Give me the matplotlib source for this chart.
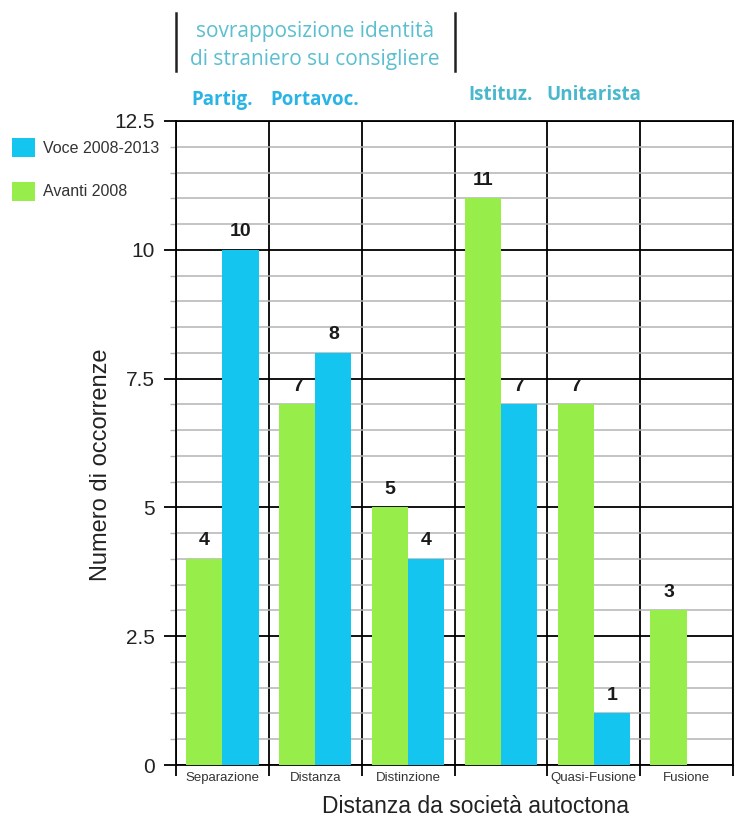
import matplotlib
matplotlib.use("Agg")
import matplotlib.pyplot as plt
import matplotlib.transforms as mtransforms
from matplotlib.patches import Patch
from matplotlib.lines import Line2D
import numpy as np

# ─── Data ─────────────────────────────────────────────────────────────────────
categories = ["Separazione", "Distanza", "Distinzione", "", "Quasi-Fusione", "Fusione"]
avanti_2008 = [4, 7, 5, 11, 7, 3]
voce_2008_2013 = [10, 8, 4, 7, 1, None]
role_labels = ["Partig.", "Portavoc.", "Istituz.", "Unitarista"]
role_positions = [0, 1, 3, 4]
overlap_note = ["sovrapposizione identità", "di straniero su consigliere"]
y_ticks = [0, 2.5, 5, 7.5, 10, 12.5]
y_tick_labels = ["0", "2.5", "5", "7.5", "10", "12.5"]

GREEN = "#97ee4b"
BLUE = "#14c6ef"
SANS = ["Liberation Sans", "DejaVu Sans"]
NOTE = ["Open Sans", "DejaVu Sans"]

plt.rcParams["font.family"] = SANS

fig = plt.figure(figsize=(7.35, 8.21), dpi=100)
ax = fig.add_axes([176 / 735, 1 - 765 / 821, 557 / 735, 644 / 821])

x = np.arange(len(categories))
w = 0.39
off = 0.195

# ─── Bars ─────────────────────────────────────────────────────────────────────
for i, (g, b) in enumerate(zip(avanti_2008, voce_2008_2013)):
    ax.bar(x[i] - off, g, width=w, color=GREEN, zorder=3)
    ax.annotate(f"{g}", (x[i] - off, g), xytext=(0, 7), textcoords="offset points",
                ha="center", va="bottom", fontsize=14, fontweight="bold", color="#1a1a1a")
    if b is not None:
        ax.bar(x[i] + off, b, width=w, color=BLUE, zorder=3)
        ax.annotate(f"{b}", (x[i] + off, b), xytext=(0, 7), textcoords="offset points",
                    ha="center", va="bottom", fontsize=14, fontweight="bold", color="#1a1a1a")

# ─── Axes / grid ──────────────────────────────────────────────────────────────
ax.set_xlim(-0.5, len(categories) - 0.5)
ax.set_ylim(0, 12.5)
ax.set_xticks(np.arange(len(categories) + 1) - 0.5)
ax.set_xticklabels([])
ax.set_xticks(x, minor=True)
ax.set_xticklabels(categories, minor=True, fontsize=9.5, color="#333333")
ax.set_yticks(y_ticks)
ax.set_yticklabels(y_tick_labels, fontsize=15, color="#222222")
ax.set_yticks(np.arange(0, 12.51, 0.5), minor=True)

ax.tick_params(axis="x", which="major", direction="out", length=8, width=1.3, color="black")
ax.tick_params(axis="x", which="minor", length=0, pad=5)
ax.tick_params(axis="y", which="major", direction="out", length=9, width=1.3, color="black", pad=6)
ax.tick_params(axis="y", which="minor", direction="out", length=4, width=1.0, color="#b0b0b0")

ax.grid(True, which="minor", axis="y", color="#b4b4b4", lw=1.1, zorder=0)
ax.grid(True, which="major", axis="y", color="black", lw=1.3, zorder=1)
ax.grid(True, which="major", axis="x", color="black", lw=1.3, zorder=1)
ax.set_axisbelow(True)
for s in ax.spines.values():
    s.set_color("black")
    s.set_linewidth(1.3)

ax.set_xlabel("Distanza da società autoctona", fontsize=16.5, color="#222222")
ax.xaxis.set_label_coords((475 - 176) / 557, -30 / 644)
ax.set_ylabel("Numero di occorrenze", fontsize=17, color="#222222")
ax.yaxis.set_label_coords((112 - 176) / 557, (765 - 465) / 644)

# ─── Annotations above the plot ───────────────────────────────────────────────
trans = mtransforms.blended_transform_factory(ax.transData, fig.transFigure)
for xb in (-0.5, 2.5):
    fig.add_artist(Line2D([xb, xb], [1 - 13 / 821, 1 - 71 / 821], transform=trans,
                          color="#222222", lw=1.8))
ax.text(1.0, 1 - 32 / 821, overlap_note[0], transform=trans, ha="center", va="center",
        fontsize=15, color="#5bbfd0", family=NOTE)
ax.text(1.0, 1 - 60 / 821, overlap_note[1], transform=trans, ha="center", va="center",
        fontsize=15, color="#5bbfd0", family=NOTE)
for lbl, pos in zip(role_labels, role_positions):
    yy = 1 - 100 / 821 if pos < 3 else 1 - 95 / 821
    col = "#2ab4e6" if pos < 3 else "#4ab8cc"
    ax.text(pos, yy, lbl, transform=trans, ha="center", va="center",
            fontsize=13.5, fontweight="bold", color=col, family=NOTE)

# ─── Legend ───────────────────────────────────────────────────────────────────
handles = [Patch(facecolor=BLUE, edgecolor="none"), Patch(facecolor=GREEN, edgecolor="none")]
fig.legend(handles, ["Voce 2008-2013", "Avanti 2008"], loc="upper left",
           bbox_to_anchor=(12 / 735, 1 - 138 / 821), frameon=False, fontsize=11.5,
           handlelength=1.45, handleheight=1.45, handletextpad=0.5, labelspacing=1.55,
           borderpad=0, borderaxespad=0, labelcolor="#333333")

fig.savefig("out.png", dpi=100)
